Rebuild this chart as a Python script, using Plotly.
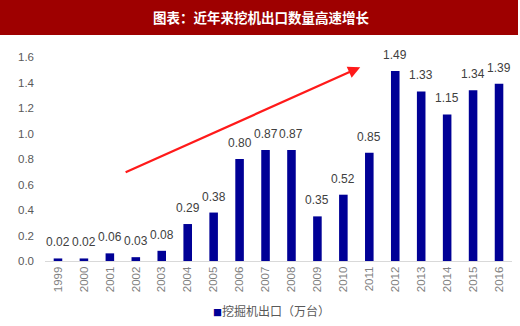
import plotly.graph_objects as go

years = ["1999","2000","2001","2002","2003","2004","2005","2006","2007","2008",
         "2009","2010","2011","2012","2013","2014","2015","2016"]
exports = [0.02,0.02,0.06,0.03,0.08,0.29,0.38,0.80,0.87,0.87,
           0.35,0.52,0.85,1.49,1.33,1.15,1.34,1.39]
labels = ["%.2f" % v for v in exports]
series_name = "挖掘机出口（万台）"
title_text = "图表：近年来挖机出口数量高速增长"
y_ticks = [0.0,0.2,0.4,0.6,0.8,1.0,1.2,1.4,1.6]

W, H = 520, 326
ml, mr, mt, mb = 45, 8, 57, 65
pw, ph = W - ml - mr, H - mt - mb

def px(x):
    return (x - ml) / pw
def py(y):
    return 1 + (mt - y) / ph

bar_color = "#000096"

fig = go.Figure()
fig.add_trace(go.Bar(
    x=years, y=exports, name=series_name,
    marker=dict(color=bar_color, line=dict(width=0)),
    width=0.33,
    showlegend=False,
))

# value labels (category index positions)
for i, (v, lab) in enumerate(zip(exports, labels)):
    fig.add_annotation(x=i, y=v, xref="x", yref="y", text=lab, showarrow=False,
                       yanchor="bottom", yshift=7,
                       font=dict(family="Liberation Sans, Arial", size=12, color="#404040"))

fig.update_layout(
    width=W, height=H,
    margin=dict(l=ml, r=mr, t=mt, b=mb),
    paper_bgcolor="white", plot_bgcolor="white",
    showlegend=False,
    font=dict(family="Liberation Sans, Arial", color="#595959"),
    xaxis=dict(type="category", categoryorder="array", categoryarray=years,
               range=[-0.5, len(years) - 0.5], tickangle=-90, showgrid=False,
               showline=True, linecolor="#d9d9d9", linewidth=1,
               ticks="", tickfont=dict(size=11.5, color="#7f7f7f")),
    yaxis=dict(range=[0, 1.6], tickvals=y_ticks, ticktext=["%.1f" % v for v in y_ticks],
               showgrid=False, zeroline=False, showline=False, ticks="",
               tickfont=dict(size=11.5, color="#595959"), ticklabelstandoff=10),
)

# legend (drawn as text)
fig.add_annotation(xref="paper", yref="paper", x=px(211), y=py(310),
                   text="<span style='color:%s;font-size:9px'>■</span>%s" % (bar_color, series_name),
                   showarrow=False, xanchor="left", yanchor="middle",
                   font=dict(family="Noto Sans CJK SC", size=12, color="#595959"))

# title bar
fig.add_shape(type="rect", xref="paper", yref="paper",
              x0=px(0), x1=px(518), y0=py(35), y1=py(0),
              fillcolor="#9e0000", line=dict(width=0), layer="below")
fig.add_annotation(xref="paper", yref="paper", x=px(261), y=py(17),
                   text="<b>" + title_text + "</b>", showarrow=False,
                   font=dict(family="Noto Sans CJK SC", size=13.5, color="white"),
                   xanchor="center", yanchor="middle")

# trend arrow
fig.add_annotation(x=11.65, y=1.52, ax=2.55, ay=0.69,
                   xref="x", yref="y", axref="x", ayref="y",
                   showarrow=True, arrowhead=2, arrowsize=1.1, arrowwidth=2.2,
                   arrowcolor="#ff1a1a", text="")

fig.write_html("out.html")
